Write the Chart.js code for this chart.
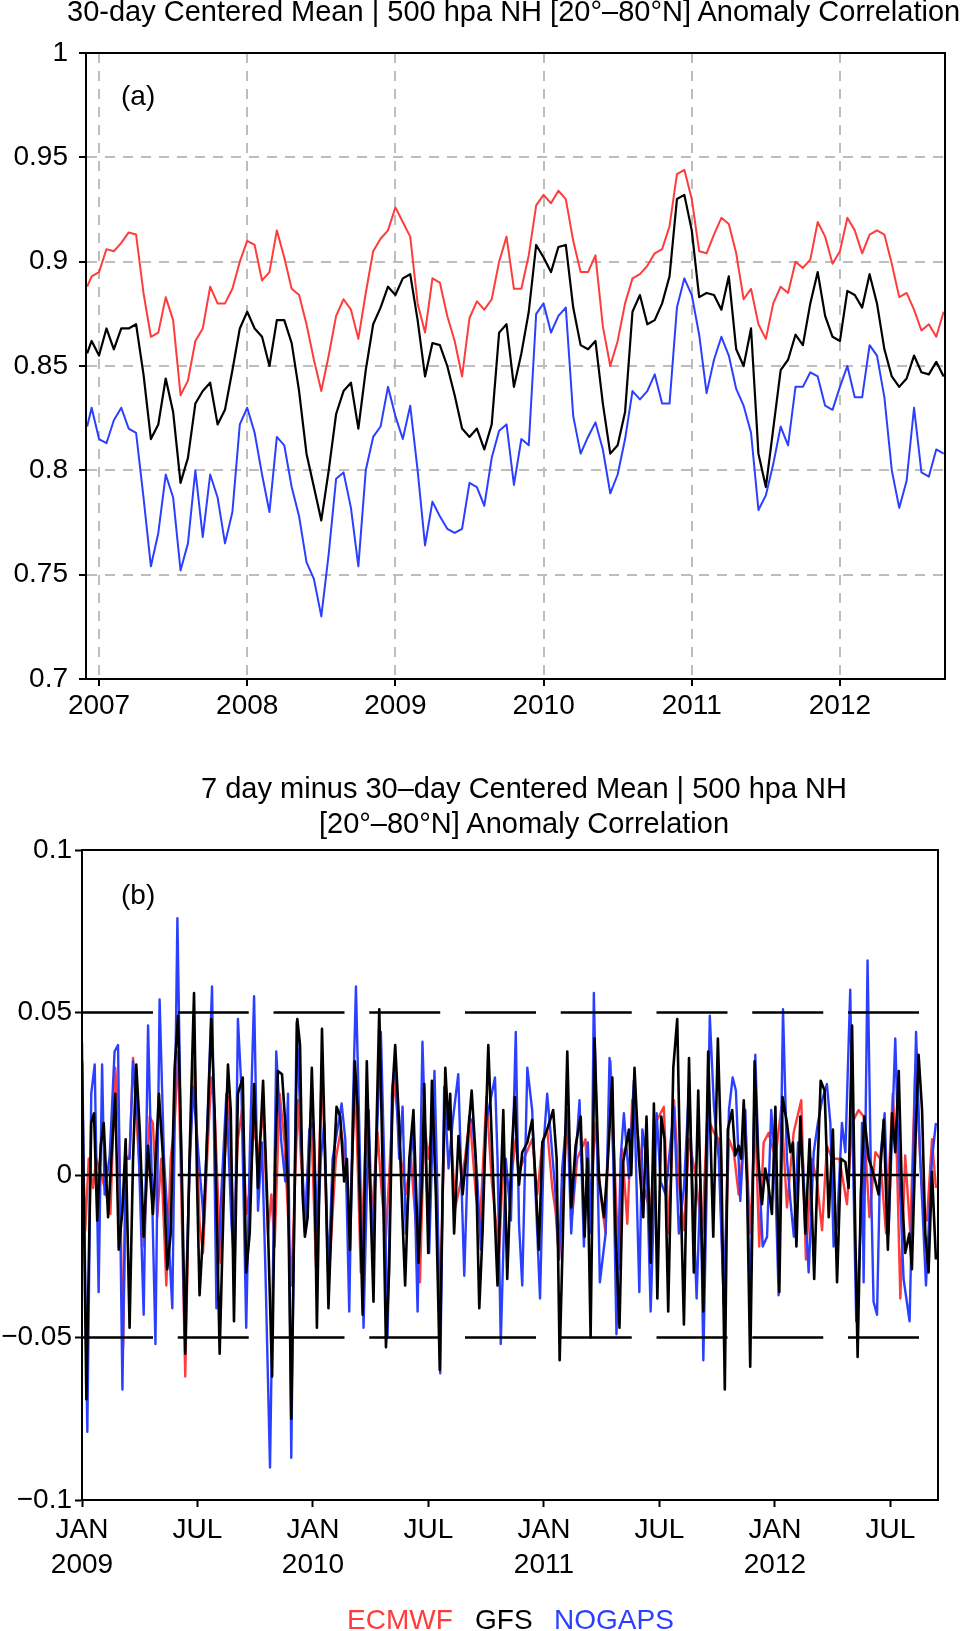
<!DOCTYPE html>
<html>
<head>
<meta charset="utf-8">
<script src="https://cdn.jsdelivr.net/npm/chart.js@4.4.0/dist/chart.umd.min.js"></script>
<style>
  html, body { margin: 0; padding: 0; background: #fff; width: 964px; height: 1631px; overflow: hidden; }
  body { position: relative; font-family: "Liberation Sans", Arial, Helvetica, sans-serif; color: #000; }
  canvas { position: absolute; left: 0; }
  #chartA { top: 0; }
  #chartB { top: 740px; }
  .txt { position: absolute; font-size: 28px; line-height: 28px; white-space: nowrap; }
  .title { font-size: 29px; }
</style>
</head>
<body>
<canvas id="chartA" width="964" height="730"></canvas>
<canvas id="chartB" width="964" height="891"></canvas>

<div class="txt title" style="left:67px; top:-3px; line-height:29px;">30-day Centered Mean | 500 hpa NH [20°–80°N] Anomaly Correlation</div>
<div class="txt" style="left:121px; top:82px;">(a)</div>
<div class="txt title" style="left:524px; top:771px; line-height:35px; text-align:center; transform:translateX(-50%);">7 day minus 30–day Centered Mean | 500 hpa NH<br>[20°–80°N] Anomaly Correlation</div>
<div class="txt" style="left:121px; top:881px;">(b)</div>
<div class="txt" style="left:347px; top:1606px; color:#ff3c3c;">ECMWF</div>
<div class="txt" style="left:475px; top:1606px;">GFS</div>
<div class="txt" style="left:554px; top:1606px; color:#2b40ff;">NOGAPS</div>

<script>
// ---------- panel (a): 30-day centered mean ----------
const yearsA = [
  2006.92, 2006.95,
  2007.00, 2007.05, 2007.10, 2007.15, 2007.20, 2007.25, 2007.30, 2007.35, 2007.40, 2007.45,
  2007.50, 2007.55, 2007.60, 2007.65, 2007.70, 2007.75, 2007.80, 2007.85, 2007.90, 2007.95,
  2008.00, 2008.05, 2008.10, 2008.15, 2008.20, 2008.25, 2008.30, 2008.35, 2008.40, 2008.45,
  2008.50, 2008.55, 2008.60, 2008.65, 2008.70, 2008.75, 2008.80, 2008.85, 2008.90, 2008.95,
  2009.00, 2009.05, 2009.10, 2009.15, 2009.20, 2009.25, 2009.30, 2009.35, 2009.40, 2009.45,
  2009.50, 2009.55, 2009.60, 2009.65, 2009.70, 2009.75, 2009.80, 2009.85, 2009.90, 2009.95,
  2010.00, 2010.05, 2010.10, 2010.15, 2010.20, 2010.25, 2010.30, 2010.35, 2010.40, 2010.45,
  2010.50, 2010.55, 2010.60, 2010.65, 2010.70, 2010.75, 2010.80, 2010.85, 2010.90, 2010.95,
  2011.00, 2011.05, 2011.10, 2011.15, 2011.20, 2011.25, 2011.30, 2011.35, 2011.40, 2011.45,
  2011.50, 2011.55, 2011.60, 2011.65, 2011.70, 2011.75, 2011.80, 2011.85, 2011.90, 2011.95,
  2012.00, 2012.05, 2012.10, 2012.15, 2012.20, 2012.25, 2012.30, 2012.35, 2012.40, 2012.45,
  2012.50, 2012.55, 2012.60, 2012.65, 2012.70
];
const ecmwfA = [
  0.888, 0.893,
  0.895, 0.906, 0.905, 0.909, 0.914, 0.913, 0.885, 0.864, 0.866, 0.883,
  0.872, 0.836, 0.843, 0.862, 0.868, 0.888, 0.880, 0.880, 0.887, 0.900,
  0.910, 0.908, 0.891, 0.895, 0.915, 0.902, 0.887, 0.884, 0.870, 0.853,
  0.838, 0.855, 0.874, 0.882, 0.877, 0.863, 0.885, 0.905, 0.911, 0.915,
  0.926, 0.919, 0.912, 0.880, 0.866, 0.892, 0.890, 0.874, 0.862, 0.845,
  0.873, 0.881, 0.877, 0.882, 0.900, 0.912, 0.887, 0.887, 0.903, 0.927,
  0.932, 0.928, 0.934, 0.930, 0.910, 0.895, 0.895, 0.903, 0.869, 0.850,
  0.862, 0.880, 0.892, 0.894, 0.898, 0.904, 0.906, 0.917, 0.942, 0.944,
  0.930, 0.905, 0.904, 0.913, 0.921, 0.918, 0.904, 0.882, 0.887, 0.870,
  0.863, 0.880, 0.888, 0.885, 0.900, 0.897, 0.901, 0.919, 0.912, 0.899,
  0.905, 0.921, 0.915, 0.904, 0.913, 0.915, 0.913, 0.899, 0.883, 0.885,
  0.877, 0.867, 0.870, 0.864, 0.876
];
const gfsA = [
  0.856, 0.862,
  0.855, 0.868, 0.858, 0.868, 0.868, 0.870, 0.846, 0.815, 0.822, 0.844,
  0.828, 0.794, 0.806, 0.832, 0.838, 0.842, 0.822, 0.829, 0.848, 0.868,
  0.876, 0.868, 0.864, 0.850, 0.872, 0.872, 0.861, 0.838, 0.808, 0.792,
  0.776, 0.800, 0.827, 0.838, 0.842, 0.820, 0.848, 0.870, 0.878, 0.888,
  0.884, 0.892, 0.894, 0.872, 0.845, 0.861, 0.860, 0.850, 0.836, 0.820,
  0.816, 0.820, 0.810, 0.822, 0.866, 0.870, 0.840, 0.856, 0.876, 0.908,
  0.902, 0.895, 0.907, 0.908, 0.878, 0.860, 0.858, 0.862, 0.832, 0.808,
  0.812, 0.828, 0.876, 0.884, 0.870, 0.872, 0.880, 0.893, 0.930, 0.932,
  0.915, 0.883, 0.885, 0.884, 0.877, 0.893, 0.858, 0.850, 0.868, 0.808,
  0.792, 0.820, 0.848, 0.853, 0.865, 0.860, 0.880, 0.895, 0.874, 0.864,
  0.862, 0.886, 0.884, 0.878, 0.894, 0.880, 0.858, 0.845, 0.840, 0.844,
  0.855, 0.847, 0.846, 0.852, 0.845
];
const nogapsA = [
  0.821, 0.830,
  0.815, 0.813, 0.824, 0.830, 0.820, 0.818, 0.787, 0.754, 0.770, 0.798,
  0.787, 0.752, 0.765, 0.800, 0.768, 0.798, 0.787, 0.765, 0.780, 0.822,
  0.830, 0.818, 0.798, 0.780, 0.816, 0.812, 0.792, 0.778, 0.756, 0.748,
  0.730, 0.760, 0.796, 0.799, 0.782, 0.754, 0.800, 0.816, 0.821, 0.840,
  0.826, 0.815, 0.831, 0.800, 0.764, 0.785, 0.778, 0.772, 0.770, 0.772,
  0.794, 0.792, 0.783, 0.806, 0.819, 0.822, 0.793, 0.815, 0.812, 0.875,
  0.880, 0.866, 0.874, 0.878, 0.826, 0.808, 0.816, 0.823, 0.810, 0.789,
  0.798, 0.815, 0.838, 0.834, 0.838, 0.846, 0.832, 0.832, 0.878, 0.892,
  0.884, 0.865, 0.837, 0.853, 0.864, 0.855, 0.839, 0.831, 0.818, 0.781,
  0.788, 0.803, 0.821, 0.812, 0.840, 0.840, 0.847, 0.845, 0.831, 0.829,
  0.840, 0.850, 0.835, 0.835, 0.860, 0.855, 0.835, 0.800, 0.782, 0.795,
  0.830, 0.799, 0.797, 0.810, 0.808
];
const xTicksA = [2007, 2008, 2009, 2010, 2011, 2012];
const yTicksA = [0.7, 0.75, 0.8, 0.85, 0.9, 0.95, 1];
const yLabelsA = ['0.7', '0.75', '0.8', '0.85', '0.9', '0.95', '1'];

// ---------- panel (b): 7-day minus 30-day centered mean ----------
const gfsDatesB = [
  2009.000, 2009.019, 2009.040, 2009.052, 2009.066, 2009.081, 2009.094, 2009.113, 2009.127, 2009.144,
  2009.159, 2009.175, 2009.189, 2009.206, 2009.221, 2009.235, 2009.250, 2009.267, 2009.286, 2009.307,
  2009.333, 2009.351, 2009.369, 2009.384, 2009.401, 2009.416, 2009.433, 2009.447, 2009.466, 2009.485,
  2009.498, 2009.509, 2009.524, 2009.538, 2009.560, 2009.574, 2009.596, 2009.618, 2009.632, 2009.644,
  2009.658, 2009.675, 2009.696, 2009.711, 2009.726, 2009.745, 2009.762, 2009.784, 2009.801, 2009.823,
  2009.837, 2009.848, 2009.866, 2009.880, 2009.892, 2009.906, 2009.921, 2009.932, 2009.944,
  2009.955, 2009.965, 2009.977, 2009.995, 2010.005, 2010.017, 2010.039, 2010.053, 2010.067, 2010.085,
  2010.102, 2010.118, 2010.135, 2010.147, 2010.160, 2010.181, 2010.193, 2010.215, 2010.233, 2010.248,
  2010.262, 2010.272, 2010.287, 2010.304, 2010.316, 2010.330, 2010.345, 2010.356, 2010.373, 2010.388,
  2010.399, 2010.417, 2010.435, 2010.457, 2010.472, 2010.482, 2010.499, 2010.515, 2010.532, 2010.549,
  2010.561, 2010.573, 2010.587, 2010.594, 2010.611, 2010.630, 2010.648, 2010.665, 2010.687, 2010.705,
  2010.720, 2010.734, 2010.759, 2010.777, 2010.799, 2010.824, 2010.841, 2010.860, 2010.874,
  2010.885, 2010.892, 2010.906, 2010.928, 2010.949, 2010.964, 2010.978, 2010.993, 2011.014, 2011.040,
  2011.055, 2011.068, 2011.082, 2011.101, 2011.118, 2011.137, 2011.159, 2011.176, 2011.188, 2011.202,
  2011.219, 2011.238, 2011.260, 2011.277, 2011.296, 2011.310, 2011.327, 2011.343, 2011.368, 2011.378,
  2011.392, 2011.411, 2011.430, 2011.444, 2011.462, 2011.476, 2011.491, 2011.508, 2011.522, 2011.538,
  2011.560, 2011.577, 2011.592, 2011.606, 2011.628, 2011.649, 2011.668, 2011.690, 2011.711, 2011.733,
  2011.753, 2011.768, 2011.783, 2011.796, 2011.815,
  2011.828, 2011.843, 2011.854, 2011.865, 2011.879, 2011.893, 2011.904, 2011.912, 2011.927, 2011.944,
  2011.958, 2011.973, 2011.987, 2012.002, 2012.019, 2012.033, 2012.052, 2012.067, 2012.078, 2012.093,
  2012.110, 2012.132, 2012.150, 2012.170, 2012.186, 2012.198, 2012.215, 2012.233, 2012.251, 2012.269,
  2012.286, 2012.305, 2012.319, 2012.334, 2012.348, 2012.358, 2012.372, 2012.387, 2012.406, 2012.420,
  2012.435, 2012.449, 2012.471, 2012.489, 2012.507, 2012.521, 2012.536, 2012.550, 2012.564, 2012.582,
  2012.593, 2012.611, 2012.622, 2012.637, 2012.651, 2012.665, 2012.680, 2012.697
];
const gfsB = [
  0.035, -0.069, 0.016, 0.019, -0.014, 0.009, 0.016, -0.013, 0.005, 0.025,
  -0.023, -0.011, 0.011, -0.047, 0.005, 0.034, 0.014, -0.019, 0.009, -0.012,
  0.025, 0.005, -0.029, -0.018, 0.033, 0.049, -0.002, -0.055, 0.007, 0.056,
  -0.002, -0.037, -0.018, 0.005, 0.048, 0.020, -0.055, 0.005, 0.034, 0.020,
  -0.045, 0.025, 0.030, -0.030, -0.018, 0.028, -0.004, 0.029, -0.006, -0.062,
  0.005, 0.032, 0.031, 0.016, -0.004, -0.075, -0.004, 0.048, 0.040,
  -0.006, -0.019, -0.013, 0.033, 0.010, -0.047, 0.045, 0.005, -0.041, -0.004,
  0.021, 0.018, -0.002, 0.005, -0.023, 0.035, 0.021, -0.043, 0.035, -0.006,
  -0.039, 0.005, 0.051, -0.006, -0.053, -0.029, 0.027, 0.040, 0.016, -0.014,
  -0.034, 0.005, 0.020, -0.027, -0.002, 0.028, -0.024, 0.029, -0.006, -0.060,
  -0.006, 0.033, 0.014, 0.025, -0.018, 0.012, -0.006, 0.007, 0.026, 0.005,
  -0.041, -0.018, 0.040, 0.005, -0.034, 0.020, -0.032, 0.007, 0.024,
  0.005, -0.003, 0.007, 0.010, 0.017, -0.002, -0.023, 0.010, 0.014, 0.020,
  0.005, -0.057, -0.018, 0.038, -0.010, 0.009, 0.018, -0.019, 0.005, -0.050,
  0.042, -0.001, -0.013, 0.005, 0.030, -0.018, -0.047, 0.004, 0.014, 0.000,
  0.033, 0.005, -0.013, 0.018, -0.027, 0.022, -0.038, 0.018, 0.011, -0.042,
  0.033, 0.048, -0.006, -0.046, 0.036, -0.030, 0.026, -0.042, 0.038, -0.019,
  0.042, 0.005, -0.066, 0.014, 0.020,
  0.006, 0.009, 0.005, 0.023, -0.002, -0.059, -0.006, 0.035, 0.005, -0.009,
  0.002, -0.004, -0.012, 0.021, -0.036, 0.024, 0.016, 0.007, 0.010, -0.022,
  0.018, -0.018, 0.011, -0.032, 0.005, 0.029, 0.026, -0.013, 0.014, -0.033,
  0.005, 0.004, -0.004, 0.046, -0.018, -0.056, -0.006, 0.018, 0.005, 0.002,
  -0.002, -0.006, 0.017, -0.023, 0.019, 0.007, 0.032, -0.006, -0.024, -0.018,
  -0.029, 0.016, 0.037, 0.020, -0.018, -0.030, 0.001, -0.026
];
const nogapsDatesB = [
  2009.000, 2009.023, 2009.040, 2009.055, 2009.072, 2009.087, 2009.098, 2009.120, 2009.141, 2009.156,
  2009.175, 2009.189, 2009.206, 2009.221, 2009.242, 2009.267, 2009.286, 2009.300, 2009.318, 2009.336,
  2009.355, 2009.372, 2009.391, 2009.413, 2009.430, 2009.444, 2009.466, 2009.481, 2009.509, 2009.528,
  2009.563, 2009.582, 2009.603, 2009.625, 2009.647, 2009.661, 2009.675, 2009.690, 2009.711, 2009.727,
  2009.745, 2009.762, 2009.779, 2009.794, 2009.814, 2009.841, 2009.863, 2009.880, 2009.892, 2009.906,
  2009.929,
  2009.966, 2009.984, 2010.001, 2010.020, 2010.034, 2010.049, 2010.067, 2010.085, 2010.124, 2010.140,
  2010.157, 2010.171, 2010.186, 2010.200, 2010.219, 2010.241, 2010.258, 2010.294, 2010.308, 2010.323,
  2010.342, 2010.356, 2010.373, 2010.388, 2010.402, 2010.424, 2010.434, 2010.453, 2010.474, 2010.489,
  2010.503, 2010.526, 2010.539, 2010.551, 2010.568, 2010.587, 2010.604, 2010.629, 2010.655, 2010.676,
  2010.691, 2010.712, 2010.727, 2010.749, 2010.788, 2010.799, 2010.813, 2010.835, 2010.857, 2010.878,
  2010.892, 2010.906, 2010.928, 2010.949, 2010.964, 2010.983, 2011.000, 2011.014, 2011.032, 2011.050,
  2011.065, 2011.079, 2011.101, 2011.118, 2011.137, 2011.154, 2011.173, 2011.190, 2011.205, 2011.216,
  2011.231, 2011.242, 2011.267, 2011.284, 2011.300, 2011.314, 2011.332, 2011.346, 2011.368, 2011.389,
  2011.413, 2011.426, 2011.444, 2011.462, 2011.488, 2011.505, 2011.527, 2011.548, 2011.563, 2011.584,
  2011.606, 2011.628, 2011.661, 2011.678, 2011.690, 2011.704, 2011.718, 2011.736, 2011.757, 2011.779,
  2011.801, 2011.817,
  2011.831, 2011.850, 2011.872, 2011.893, 2011.915, 2011.929, 2011.947, 2011.966, 2011.984, 2011.999,
  2012.016, 2012.035, 2012.052, 2012.067, 2012.082, 2012.100, 2012.120, 2012.146, 2012.168, 2012.186,
  2012.204, 2012.225, 2012.240, 2012.254, 2012.269, 2012.290, 2012.305, 2012.326, 2012.341, 2012.352,
  2012.370, 2012.377, 2012.384, 2012.401, 2012.417, 2012.427, 2012.442, 2012.456, 2012.475, 2012.492,
  2012.521, 2012.536, 2012.557, 2012.583, 2012.611, 2012.629, 2012.654, 2012.680, 2012.697
];
const nogapsB = [
  0.041, -0.079, 0.025, 0.034, -0.036, 0.034, -0.006, 0.006, 0.038, 0.040,
  -0.066, 0.005, 0.005, 0.035, 0.016, -0.043, 0.046, 0.005, -0.052, 0.054,
  0.005, -0.015, -0.041, 0.079, 0.005, -0.049, 0.002, 0.027, 0.002, -0.015,
  0.058, -0.041, -0.006, 0.025, -0.015, -0.029, 0.048, 0.027, -0.047, 0.009,
  0.055, -0.011, 0.010, -0.029, -0.090, 0.038, 0.010, -0.002, 0.025, -0.087,
  0.047,
  -0.018, 0.014, 0.016, -0.018, 0.005, 0.016, -0.031, 0.005, 0.022, 0.011,
  -0.042, 0.016, 0.058, 0.016, -0.047, 0.020, -0.023, 0.044, 0.005, -0.050,
  0.025, 0.035, 0.005, 0.021, -0.018, 0.007, 0.014, -0.042, 0.041, 0.005,
  -0.024, 0.032, -0.006, -0.061, 0.027, 0.002, 0.016, 0.031, -0.031, 0.018,
  0.016, -0.002, -0.023, 0.016, 0.030, 0.005, -0.052, 0.005, -0.014, 0.044,
  -0.015, -0.034, 0.033, 0.020, -0.006, -0.038, 0.011, 0.025, 0.010, -0.006,
  -0.026, 0.002, 0.020, -0.018, 0.005, 0.023, -0.022, 0.010, -0.018, 0.056,
  0.005, -0.033, -0.018, 0.036, 0.005, -0.049, 0.005, 0.019, -0.001, 0.029,
  -0.036, 0.014, 0.005, -0.042, 0.019, -0.002, -0.006, 0.010, 0.021, -0.018,
  -0.004, 0.027, -0.038, -0.001, -0.057, -0.006, 0.049, 0.021, 0.005, -0.040,
  0.020, 0.030,
  0.026, -0.008, 0.020, -0.040, 0.037, 0.005, -0.022, -0.019, 0.020, 0.005,
  -0.037, 0.051, 0.005, -0.008, -0.019, 0.010, 0.005, -0.030, 0.007, 0.016,
  0.023, 0.028, 0.016, -0.022, -0.015, 0.016, 0.007, 0.057, -0.006, -0.045,
  -0.018, 0.016, -0.033, 0.066, -0.006, -0.039, -0.043, 0.005, 0.019, -0.018,
  0.042, 0.005, -0.032, -0.045, 0.044, 0.005, -0.034, 0.005, 0.016
];
const ecmwfDatesB = [
  2009.000, 2009.014, 2009.029, 2009.048, 2009.062, 2009.084, 2009.105, 2009.123, 2009.144, 2009.159,
  2009.178, 2009.192, 2009.206, 2009.221, 2009.242, 2009.268, 2009.293, 2009.307, 2009.326, 2009.343,
  2009.365, 2009.384, 2009.401, 2009.416, 2009.430, 2009.447, 2009.466, 2009.488, 2009.509, 2009.524,
  2009.543, 2009.560, 2009.574, 2009.600, 2009.618, 2009.635, 2009.658, 2009.675, 2009.693, 2009.711,
  2009.727, 2009.745, 2009.762, 2009.784, 2009.805, 2009.820, 2009.834, 2009.856, 2009.877, 2009.906,
  2009.935,
  2009.948, 2009.966, 2009.991, 2010.013, 2010.039, 2010.067, 2010.099, 2010.121, 2010.140, 2010.157,
  2010.183, 2010.207, 2010.229, 2010.255, 2010.280, 2010.298, 2010.316, 2010.352, 2010.381, 2010.402,
  2010.424, 2010.445, 2010.463, 2010.482, 2010.500, 2010.525, 2010.549, 2010.572, 2010.597, 2010.616,
  2010.640, 2010.658, 2010.679, 2010.705, 2010.723, 2010.751, 2010.774, 2010.806, 2010.824, 2010.850,
  2010.878,
  2010.892, 2010.913, 2010.949, 2010.971, 2010.993, 2011.014, 2011.036, 2011.050, 2011.065, 2011.086,
  2011.101, 2011.123, 2011.144, 2011.180, 2011.195, 2011.224, 2011.245, 2011.267, 2011.288, 2011.310,
  2011.325, 2011.339, 2011.361, 2011.382, 2011.404, 2011.433, 2011.462, 2011.483, 2011.519, 2011.541,
  2011.563, 2011.584, 2011.606, 2011.628, 2011.656, 2011.685, 2011.707, 2011.736, 2011.757, 2011.779,
  2011.801, 2011.822,
  2011.843, 2011.872, 2011.893, 2011.915, 2011.932, 2011.951, 2011.973, 2012.002, 2012.028, 2012.052,
  2012.081, 2012.114, 2012.134, 2012.160, 2012.182, 2012.204, 2012.225, 2012.247, 2012.279, 2012.312,
  2012.334, 2012.362, 2012.384, 2012.409, 2012.435, 2012.456, 2012.481, 2012.510, 2012.528, 2012.543,
  2012.564, 2012.586, 2012.608, 2012.629, 2012.644, 2012.658, 2012.680, 2012.697
];
const ecmwfB = [
  0.016, -0.017, 0.005, -0.004, 0.005, 0.000, -0.006, -0.012, 0.033, 0.016,
  -0.053, 0.005, 0.006, 0.036, 0.010, -0.022, 0.018, 0.016, -0.013, 0.005,
  -0.034, 0.005, 0.016, 0.038, -0.006, -0.062, 0.005, 0.036, -0.015, -0.024,
  0.007, 0.030, 0.020, -0.027, 0.005, 0.024, -0.018, 0.011, 0.020, -0.012,
  -0.004, 0.016, 0.005, 0.020, -0.018, -0.006, -0.022, 0.025, 0.010, -0.034,
  0.023,
  0.005, -0.013, 0.020, -0.028, 0.035, -0.034, 0.005, 0.014, 0.005, -0.018,
  0.029, -0.030, 0.014, -0.012, 0.013, -0.006, -0.019, 0.030, 0.005, -0.006,
  0.005, -0.015, -0.033, 0.016, 0.005, 0.023, -0.040, 0.020, 0.014, -0.010,
  -0.002, 0.005, 0.018, -0.006, -0.015, 0.024, -0.002, -0.024, 0.005, -0.006,
  0.011,
  0.001, 0.005, 0.011, -0.006, 0.010, 0.014, -0.004, -0.011, -0.026, -0.002,
  0.019, -0.012, 0.005, 0.011, -0.013, 0.016, -0.006, -0.018, 0.035, -0.004,
  -0.029, 0.008, -0.015, 0.023, 0.014, -0.004, -0.012, 0.016, 0.021, -0.018,
  0.023, -0.002, -0.017, 0.011, 0.000, -0.018, 0.018, 0.013, 0.011, -0.040,
  0.011, 0.007,
  -0.006, 0.016, -0.018, 0.017, -0.022, 0.010, 0.013, 0.005, 0.021, -0.010,
  0.013, 0.023, -0.026, 0.005, -0.002, -0.017, 0.009, 0.005, 0.005, -0.009,
  0.016, 0.020, 0.018, -0.013, 0.007, 0.005, -0.018, 0.025, 0.005, -0.038,
  0.006, -0.018, 0.034, 0.005, -0.012, -0.014, 0.011, -0.004
];
const refLevelsB = [0.05, 0, -0.05];
const xTicksB = [2009, 2009.5, 2010, 2010.5, 2011, 2011.5, 2012, 2012.5];
const xLabelsB = [['JAN', '2009'], 'JUL', ['JAN', '2010'], 'JUL', ['JAN', '2011'], 'JUL', ['JAN', '2012'], 'JUL'];
const yTicksB = [-0.1, -0.05, 0, 0.05, 0.1];
const yLabelsB = ['\u22120.1', '\u22120.05', '0', '0.05', '0.1'];

const RED = '#ff3c3c';
const BLUE = '#2b40ff';
const FONT = '"Liberation Sans", Arial, Helvetica, sans-serif';

function points(xs, ys) {
    return xs.map((x, i) => ({ x: x, y: ys[i] }));
}

// black box round the plot area
const frame = {
    id: 'frame',
    afterDraw(chart) {
        const a = chart.chartArea;
        const ctx = chart.ctx;
        ctx.save();
        ctx.strokeStyle = '#000';
        ctx.lineWidth = 2;
        ctx.strokeRect(a.left, a.top, a.right - a.left, a.bottom - a.top);
        ctx.restore();
    }
};

Chart.defaults.font.family = FONT;
Chart.defaults.color = '#000';

const tickFont = { family: FONT, size: 28, lineHeight: 1.2 };

new Chart(document.getElementById('chartA'), {
    type: 'line',
    data: {
        datasets: [
            { label: 'ECMWF', data: points(yearsA, ecmwfA), borderColor: RED, borderWidth: 2, order: 2 },
            { label: 'GFS', data: points(yearsA, gfsA), borderColor: '#000', borderWidth: 2.2, order: 1 },
            { label: 'NOGAPS', data: points(yearsA, nogapsA), borderColor: BLUE, borderWidth: 2, order: 0 }
        ]
    },
    options: {
        responsive: false,
        animation: false,
        devicePixelRatio: 1,
        layout: { padding: { top: 53, right: 19, left: 0, bottom: 0 } },
        elements: { point: { radius: 0 }, line: { tension: 0, borderJoinStyle: 'round' } },
        plugins: { legend: { display: false }, tooltip: { enabled: false } },
        scales: {
            x: {
                type: 'linear',
                min: 2006.912,
                max: 2012.709,
                afterBuildTicks: (axis) => { axis.ticks = xTicksA.map(v => ({ value: v })); },
                afterFit: (axis) => { axis.height = 51; },
                ticks: { font: tickFont, padding: 3, maxRotation: 0, autoSkip: false, callback: (v) => String(v) },
                grid: { color: '#bdbdbd', lineWidth: 2, tickLength: 7, tickColor: '#000', tickWidth: 2, tickBorderDash: [] },
                border: { display: true, color: '#000', width: 2, dash: [10, 8] }
            },
            y: {
                type: 'linear',
                min: 0.7,
                max: 1,
                afterBuildTicks: (axis) => { axis.ticks = yTicksA.map(v => ({ value: v })); },
                afterFit: (axis) => { axis.width = 86; },
                ticks: { font: tickFont, padding: 11, autoSkip: false, callback: (v, i) => yLabelsA[i] },
                grid: { color: '#bdbdbd', lineWidth: 2, tickLength: 7, tickColor: '#000', tickWidth: 2, tickBorderDash: [] },
                border: { display: true, color: '#000', width: 2, dash: [10, 8] }
            }
        }
    },
    plugins: [frame]
});

const refSets = refLevelsB.map(v => ({
    label: 'ref ' + v,
    data: [{ x: 2009, y: v }, { x: 2012.706, y: v }],
    borderColor: '#000',
    borderWidth: 2.5,
    borderDash: [71, 24.75],
    order: -1
}));

new Chart(document.getElementById('chartB'), {
    type: 'line',
    data: {
        datasets: [
            { label: 'GFS', data: points(gfsDatesB, gfsB), borderColor: '#000', borderWidth: 2.6, order: 0 },
            { label: 'NOGAPS', data: points(nogapsDatesB, nogapsB), borderColor: BLUE, borderWidth: 2.4, order: 1 },
            { label: 'ECMWF', data: points(ecmwfDatesB, ecmwfB), borderColor: RED, borderWidth: 2.4, order: 2 }
        ].concat(refSets)
    },
    options: {
        responsive: false,
        animation: false,
        devicePixelRatio: 1,
        layout: { padding: { top: 110, right: 26, left: 0, bottom: 0 } },
        elements: { point: { radius: 0 }, line: { tension: 0, borderJoinStyle: 'round' } },
        plugins: { legend: { display: false }, tooltip: { enabled: false } },
        scales: {
            x: {
                type: 'linear',
                min: 2009,
                max: 2012.706,
                afterBuildTicks: (axis) => { axis.ticks = xTicksB.map(v => ({ value: v })); },
                afterFit: (axis) => { axis.height = 131; },
                ticks: { font: { family: FONT, size: 28, lineHeight: 1.25 }, padding: 6, maxRotation: 0, autoSkip: false,
                         callback: (v, i) => xLabelsB[i] },
                grid: { drawOnChartArea: false, tickLength: 7, tickColor: '#000', tickWidth: 2 },
                border: { display: true, color: '#000', width: 2 }
            },
            y: {
                type: 'linear',
                min: -0.1,
                max: 0.1,
                afterBuildTicks: (axis) => { axis.ticks = yTicksB.map(v => ({ value: v })); },
                afterFit: (axis) => { axis.width = 82; },
                ticks: { font: tickFont, padding: 3, autoSkip: false, callback: (v, i) => yLabelsB[i] },
                grid: { drawOnChartArea: false, tickLength: 7, tickColor: '#000', tickWidth: 2 },
                border: { display: true, color: '#000', width: 2 }
            }
        }
    },
    plugins: [frame]
});
</script>
</body>
</html>
